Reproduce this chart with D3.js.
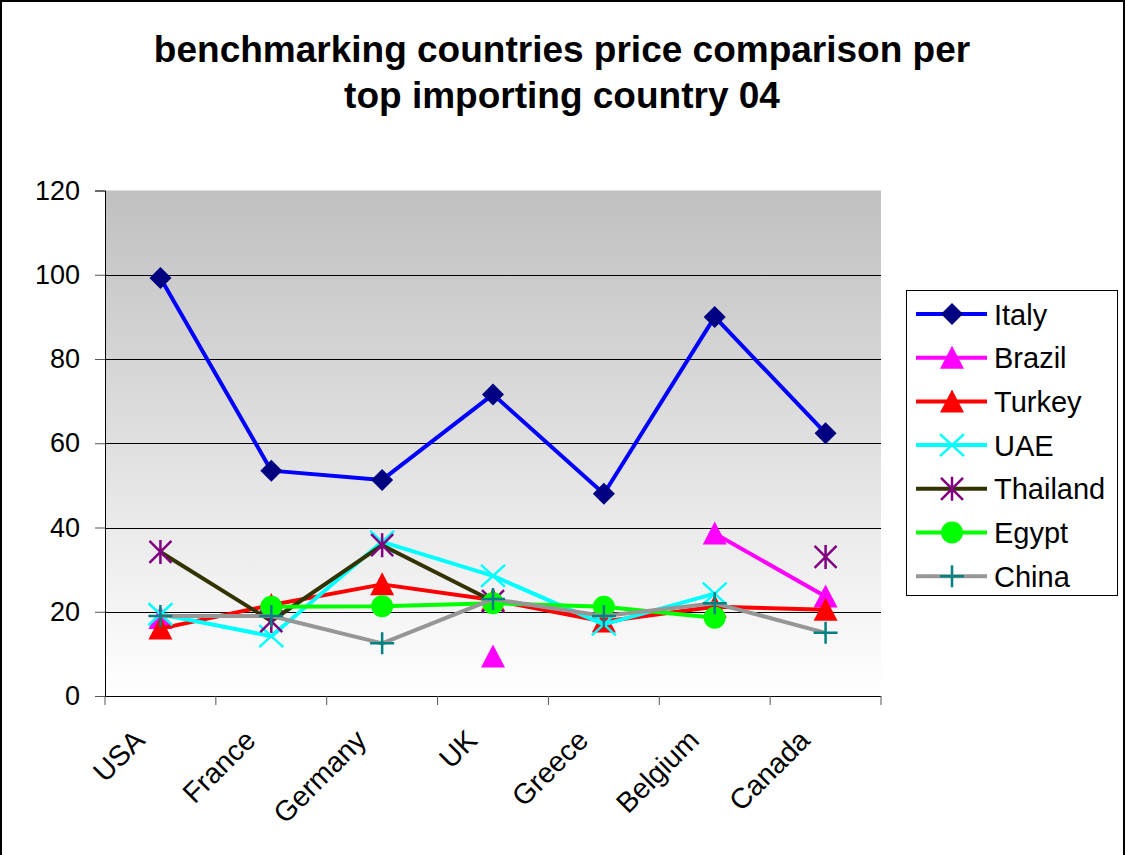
<!DOCTYPE html>
<html>
<head>
<meta charset="utf-8">
<script src="https://cdn.jsdelivr.net/npm/d3@7"></script>
<style>
  html, body { margin: 0; padding: 0; background: #fff; }
  svg { display: block; font-family: Arial, "Liberation Sans", sans-serif; }
</style>
</head>
<body>
<svg id="chart" width="1125" height="855"></svg>
<script>
// Importing countries (x categories)
const categories = ["USA", "France", "Germany", "UK", "Greece", "Belgium", "Canada"];

// Price per benchmarking country; null = no value for that market
const italy    = [99.2, 53.5, 51.3, 71.6, 48.0, 90.0, 62.4];
const brazil   = [18.5, null, null, 9.4, null, 38.6, 23.6];
const turkey   = [16.0, 21.6, 26.5, 22.8, 17.7, 21.2, 20.5];
const uae      = [19.4, 14.2, 36.6, 28.5, 17.0, 24.3, null];
const thailand = [34.2, 17.8, 35.8, 22.5, null, null, 33.0];
const egypt    = [null, 21.2, 21.3, 22.0, 21.2, 18.6, null];
const china    = [19.0, 19.0, 12.5, 23.0, 19.0, 22.0, 15.0];

const seriesNames = ["Italy", "Brazil", "Turkey", "UAE", "Thailand", "Egypt", "China"];
const seriesValues = [italy, brazil, turkey, uae, thailand, egypt, china];

const yTicks = [0, 20, 40, 60, 80, 100, 120];
const titleLines = ["benchmarking countries price comparison per", "top importing country 04"];

// Series styling: line colour, marker shape, marker colour
const styles = [
  { line: "#0000ff", marker: "diamond",  fill: "#000080" },
  { line: "#ff00ff", marker: "triangle", fill: "#ff00ff" },
  { line: "#ff0000", marker: "triangle", fill: "#ff0000" },
  { line: "#00ffff", marker: "x",        fill: "#00ffff" },
  { line: "#333300", marker: "star",     fill: "#800080" },
  { line: "#00ff00", marker: "circle",   fill: "#00ff00" },
  { line: "#969696", marker: "plus",     fill: "#008080" }
];

const svg = d3.select("#chart");
const W = 1125, H = 855;
const plot = { left: 105, right: 881, top: 190.5, bottom: 696 };

// outer chart frame (runs past the bottom edge)
svg.append("rect")
  .attr("x", 1).attr("y", 1).attr("width", W - 2).attr("height", H + 4)
  .attr("fill", "#fff").attr("stroke", "#000").attr("stroke-width", 2);

// title
svg.append("g").selectAll("text").data(titleLines).join("text")
  .attr("x", 562).attr("y", (d, i) => 62 + i * 46)
  .attr("text-anchor", "middle")
  .attr("font-weight", "bold").attr("font-size", 37)
  .text(d => d);

const x = d3.scaleBand().domain(categories).range([plot.left, plot.right]).padding(0);
const y = d3.scaleLinear().domain([0, 120]).range([plot.bottom, plot.top]);
const cx = c => x(c) + x.bandwidth() / 2;

// plot background gradient
const defs = svg.append("defs");
const grad = defs.append("linearGradient").attr("id", "bg")
  .attr("x1", 0).attr("y1", 0).attr("x2", 0).attr("y2", 1);
grad.append("stop").attr("offset", "0%").attr("stop-color", "#c0c0c0");
grad.append("stop").attr("offset", "100%").attr("stop-color", "#ffffff");

svg.append("rect")
  .attr("x", plot.left).attr("y", plot.top)
  .attr("width", plot.right - plot.left).attr("height", plot.bottom - plot.top)
  .attr("fill", "url(#bg)");

// horizontal gridlines
svg.append("g").selectAll("line").data(yTicks.filter(t => t > 0 && t < 120)).join("line")
  .attr("x1", plot.left).attr("x2", plot.right)
  .attr("y1", d => Math.round(y(d)) + 0.5).attr("y2", d => Math.round(y(d)) + 0.5)
  .attr("stroke", "#000").attr("stroke-width", 1);

// y axis
const yAxis = svg.append("g")
  .attr("transform", `translate(${plot.left},0)`)
  .call(d3.axisLeft(y).tickValues(yTicks).tickSize(10).tickPadding(15).tickFormat(d3.format("d")));
yAxis.select(".domain").attr("stroke", "#000");
yAxis.selectAll(".tick line").attr("stroke", "#555");
yAxis.selectAll("text").attr("font-size", 27).attr("fill", "#000")
  .attr("font-family", "Arial, 'Liberation Sans', sans-serif");

// x axis with boundary ticks between categories
const xAxisG = svg.append("g").attr("transform", `translate(0,${plot.bottom})`);
xAxisG.append("line").attr("x1", plot.left).attr("x2", plot.right)
  .attr("y1", 0.5).attr("y2", 0.5).attr("stroke", "#000");
const bounds = categories.map(c => x(c)).concat([plot.right]);
xAxisG.selectAll("line.tk").data(bounds).join("line").attr("class", "tk")
  .attr("x1", d => d).attr("x2", d => d).attr("y1", 0).attr("y2", 9)
  .attr("stroke", "#555");
xAxisG.selectAll("text").data(categories).join("text")
  .attr("transform", d => `translate(${cx(d) - 14},${46}) rotate(-45)`)
  .attr("text-anchor", "end")
  .attr("font-size", 28.5)
  .text(d => d);

// marker shapes
function markerPath(type) {
  switch (type) {
    case "diamond":  return "M0,-11L11,0L0,11L-11,0Z";
    case "triangle": return "M0,-12L12,11L-12,11Z";
    case "x":        return "M-12,-11L12,11M-12,11L12,-11";
    case "star":     return "M-11,-11L11,11M-11,11L11,-11M0,-12L0,12";
    case "plus":     return "M-12,0L12,0M0,-11L0,11";
    case "circle":   return null;
  }
}
function drawMarker(g, s, px, py) {
  if (s.marker === "circle") {
    g.append("circle").attr("cx", px).attr("cy", py).attr("r", 11).attr("fill", s.fill);
  } else if (s.marker === "x" || s.marker === "star" || s.marker === "plus") {
    g.append("path").attr("d", markerPath(s.marker))
      .attr("transform", `translate(${px},${py})`)
      .attr("fill", "none").attr("stroke", s.fill).attr("stroke-width", 2.5);
  } else {
    g.append("path").attr("d", markerPath(s.marker))
      .attr("transform", `translate(${px},${py})`)
      .attr("fill", s.fill);
  }
}

// series: line then markers, in series order
const line = d3.line()
  .defined(d => d.v !== null)
  .x(d => cx(d.c)).y(d => y(d.v));

seriesValues.forEach((vals, i) => {
  const s = styles[i];
  const pts = categories.map((c, j) => ({ c, v: vals[j] }));
  const g = svg.append("g");
  g.append("path").datum(pts).attr("d", line)
    .attr("fill", "none").attr("stroke", s.line).attr("stroke-width", 4)
    .attr("stroke-linejoin", "round");
  pts.filter(p => p.v !== null).forEach(p => drawMarker(g, s, cx(p.c), y(p.v)));
});

// legend
const lg = svg.append("g");
lg.append("rect").attr("x", 906.5).attr("y", 290.5).attr("width", 211).attr("height", 305)
  .attr("fill", "#fff").attr("stroke", "#000").attr("stroke-width", 1);
seriesNames.forEach((name, i) => {
  const s = styles[i];
  const ly = 314 + i * 43.7;
  lg.append("line").attr("x1", 916).attr("x2", 987).attr("y1", ly).attr("y2", ly)
    .attr("stroke", s.line).attr("stroke-width", 4);
  drawMarker(lg, s, 952, ly);
  lg.append("text").attr("x", 994).attr("y", ly + 10.5).attr("font-size", 29).text(name);
});
</script>
</body>
</html>
